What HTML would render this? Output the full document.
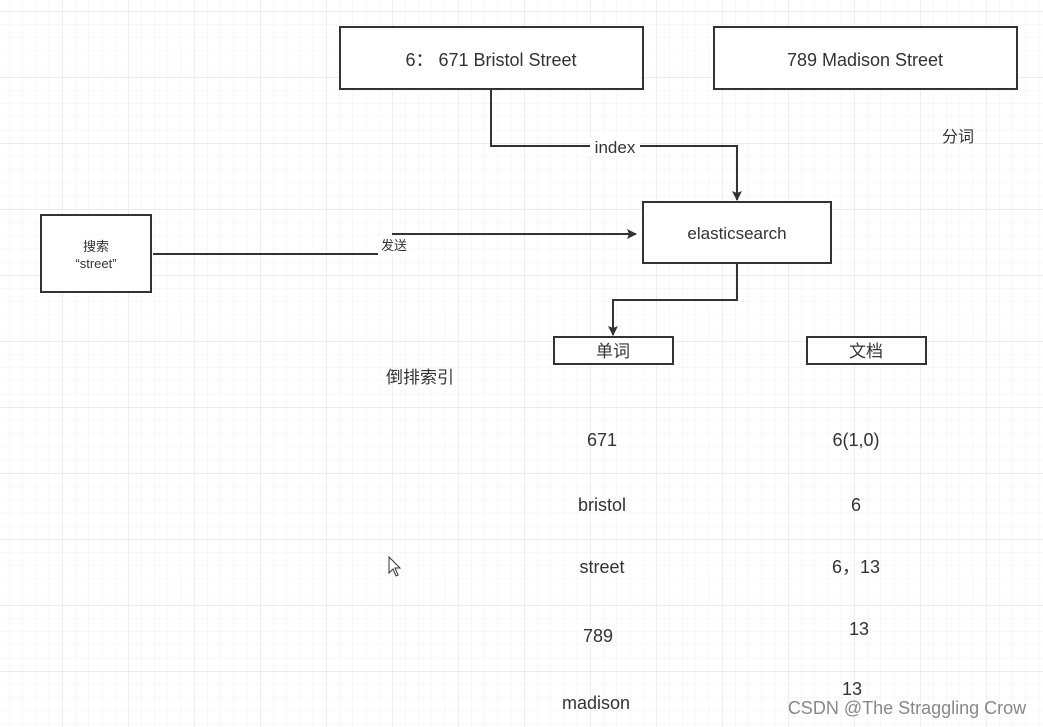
<!DOCTYPE html>
<html><head><meta charset="utf-8"><style>
html,body{margin:0;padding:0;background:#fff}
svg{display:block}
text{font-family:"Liberation Sans","Noto Sans CJK SC",sans-serif;fill:#333}
</style></head><body>
<svg width="1043" height="727" xmlns="http://www.w3.org/2000/svg">
<defs>
<pattern id="mi" x="-4" y="11" width="13.2" height="13.2" patternUnits="userSpaceOnUse">
<path d="M0 0H13.2M0 0V13.2" stroke="#f1f1f1" stroke-width="1" fill="none"/></pattern>
<pattern id="ma" x="-4" y="11" width="66" height="66" patternUnits="userSpaceOnUse">
<path d="M0 0H66M0 0V66" stroke="#e2e2e2" stroke-width="1.2" fill="none"/></pattern>
<marker id="ar" markerWidth="10" markerHeight="10" refX="9" refY="5" orient="auto" markerUnits="userSpaceOnUse">
<path d="M0 0L10 5L0 10L2 5Z" fill="#333"/></marker>
</defs>
<rect width="1043" height="727" fill="#fff"/>
<rect width="1043" height="727" fill="url(#mi)"/>
<rect width="1043" height="727" fill="url(#ma)"/>

<g fill="#fff" stroke="#333" stroke-width="2">
<rect x="340" y="27" width="303" height="62"/>
<rect x="714" y="27" width="303" height="62"/>
<rect x="643" y="202" width="188" height="61"/>
<rect x="41" y="215" width="110" height="77"/>
<rect x="554" y="337" width="119" height="27"/>
<rect x="807" y="337" width="119" height="27"/>
</g>
<g fill="none" stroke="#333" stroke-width="2">
<path d="M491 89V146H737V200" marker-end="url(#ar)"/>
<path d="M153 254H378"/>
<path d="M392 234H636" marker-end="url(#ar)"/>
<path d="M737 263V300H613V335" marker-end="url(#ar)"/>
</g>
<rect x="590" y="138" width="50" height="18" fill="#fff"/>
<rect x="378" y="236" width="32" height="18" fill="#fff"/>

<g text-anchor="middle" font-size="18">
<text x="491" y="66">6：  671 Bristol Street</text>
<text x="865" y="66">789 Madison Street</text>
<text x="737" y="239" font-size="17">elasticsearch</text>
<text x="615" y="153" font-size="17">index</text>
<text x="958" y="142" font-size="16">分词</text>
<text x="96" y="251" font-size="13">搜索</text>
<text x="96" y="268" font-size="13">“street”</text>
<text x="394" y="250" font-size="13">发送</text>
<text x="613" y="357" font-size="17">单词</text>
<text x="866" y="357" font-size="17">文档</text>
<text x="420" y="383" font-size="17">倒排索引</text>
<text x="602" y="446">671</text>
<text x="856" y="446">6(1,0)</text>
<text x="602" y="511">bristol</text>
<text x="856" y="511">6</text>
<text x="602" y="573">street</text>
<text x="856" y="573">6，13</text>
<text x="598" y="642">789</text>
<text x="859" y="635">13</text>
<text x="596" y="709">madison</text>
<text x="852" y="695">13</text>
</g>
<path d="M389 557V573L393 569L396 576L398 575L395 568L400 568Z" fill="#fff" stroke="#333" stroke-width="1"/>
<text x="907" y="714" text-anchor="middle" font-size="18" style="fill:#888">CSDN @The Straggling Crow</text>
</svg>
</body></html>
